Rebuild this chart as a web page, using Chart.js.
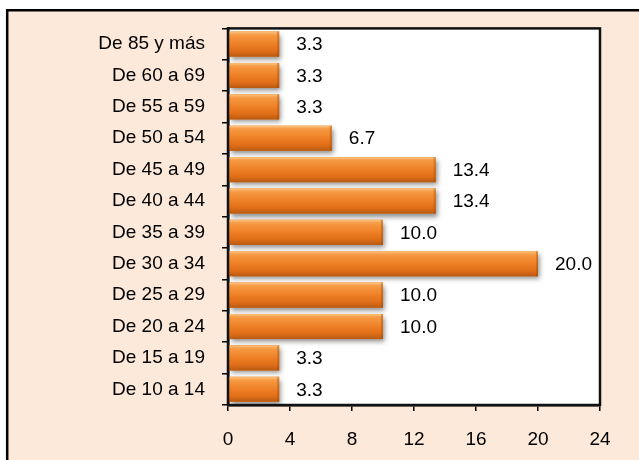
<!DOCTYPE html>
<html>
<head>
<meta charset="utf-8">
<script src="https://cdn.jsdelivr.net/npm/chart.js@4.4.1/dist/chart.umd.min.js"></script>
<style>
html,body{margin:0;padding:0;background:#fff;}
#wrap{position:relative;width:639px;height:460px;}
canvas{display:block;}
</style>
</head>
<body>
<div id="wrap"><canvas id="c" width="639" height="460"></canvas></div>
<script>
const categories = ["De 85 y más","De 60 a 69","De 55 a 59","De 50 a 54","De 45 a 49","De 40 a 44","De 35 a 39","De 30 a 34","De 25 a 29","De 20 a 24","De 15 a 19","De 10 a 14"];
const values = [3.3,3.3,3.3,6.7,13.4,13.4,10.0,20.0,10.0,10.0,3.3,3.3];
const xTicks = [0,4,8,12,16,20,24];

const FONT = "'Liberation Sans', Arial, sans-serif";
const FSIZE = 19;

const bgPlugin = {
  id: 'bg',
  beforeDraw(chart) {
    const ctx = chart.ctx, w = chart.width, h = chart.height;
    ctx.save();
    ctx.fillStyle = '#ffffff';
    ctx.fillRect(0, 0, w, h);
    ctx.fillStyle = '#FDE9D9';
    ctx.fillRect(8, 11, w - 8, h - 11);
    ctx.strokeStyle = '#000000';
    ctx.lineWidth = 2.5;
    ctx.beginPath();
    ctx.moveTo(7.2, h + 5);
    ctx.lineTo(7.2, 10.2);
    ctx.lineTo(w + 5, 10.2);
    ctx.stroke();
    const a = chart.chartArea;
    ctx.fillStyle = '#ffffff';
    ctx.fillRect(a.left, a.top, a.right - a.left, a.bottom - a.top);
    ctx.restore();
  },
  beforeDatasetsDraw(chart) {
    const ctx = chart.ctx;
    ctx.save();
    ctx.shadowColor = 'rgba(0,0,0,0.45)';
    ctx.shadowBlur = 5;
    ctx.shadowOffsetX = 2;
    ctx.shadowOffsetY = 3;
  },
  afterDatasetsDraw(chart) {
    const ctx = chart.ctx;
    ctx.restore();
    const meta = chart.getDatasetMeta(0);
    ctx.save();
    meta.data.forEach((bar, i) => {
      const top = bar.y - bar.height / 2;
      const left = bar.base;
      const wdt = bar.x - bar.base;
      const g = ctx.createLinearGradient(0, top, 0, top + bar.height);
      g.addColorStop(0, '#F9AE62');
      g.addColorStop(0.18, '#F5963E');
      g.addColorStop(0.5, '#EE8026');
      g.addColorStop(0.78, '#E06E18');
      g.addColorStop(1, '#B85A12');
      ctx.fillStyle = g;
      ctx.fillRect(left, top, wdt, bar.height);
      ctx.fillStyle = 'rgba(255,210,150,0.35)';
      ctx.fillRect(left, top, wdt, 2);
      ctx.fillStyle = 'rgba(150,70,10,0.35)';
      ctx.fillRect(bar.x - 2, top, 2, bar.height);
      ctx.fillStyle = '#000';
      ctx.font = FSIZE + 'px ' + FONT;
      ctx.textAlign = 'left';
      ctx.textBaseline = 'middle';
      ctx.fillText(values[i].toFixed(1), bar.x + 17, bar.y + 1);
    });
    const a = chart.chartArea;
    ctx.strokeStyle = '#111';
    ctx.lineWidth = 2.5;
    ctx.strokeRect(a.left, a.top, a.right - a.left, a.bottom - a.top);
    ctx.restore();
  }
};

new Chart(document.getElementById('c'), {
  type: 'bar',
  data: {
    labels: categories,
    datasets: [{
      data: values,
      backgroundColor: '#EC7F25',
      borderWidth: 0,
      barPercentage: 0.8,
      categoryPercentage: 1.0
    }]
  },
  options: {
    indexAxis: 'y',
    responsive: false,
    animation: false,
    devicePixelRatio: 1,
    layout: { padding: { top: 24, right: 39, left: 0, bottom: 0 } },
    plugins: { legend: { display: false }, tooltip: { enabled: false } },
    scales: {
      x: {
        min: 0, max: 24,
        afterBuildTicks(scale) { scale.ticks = xTicks.map(v => ({ value: v })); },
        afterFit(scale) { scale.height = 55; },
        grid: { drawOnChartArea: false, drawTicks: true, tickLength: 6, color: '#000', lineWidth: 1.5 },
        border: { display: true, color: '#111', width: 2.5 },
        ticks: { color: '#000', font: { family: FONT, size: FSIZE }, padding: 17, maxRotation: 0 }
      },
      y: {
        afterFit(scale) { scale.width = 228; },
        grid: { drawOnChartArea: false, drawTicks: true, tickLength: 6, color: '#000', lineWidth: 1.5, offset: true },
        border: { display: true, color: '#111', width: 2.5 },
        ticks: { color: '#000', font: { family: FONT, size: FSIZE }, padding: 17, autoSkip: false }
      }
    }
  },
  plugins: [bgPlugin]
});
</script>
</body>
</html>
